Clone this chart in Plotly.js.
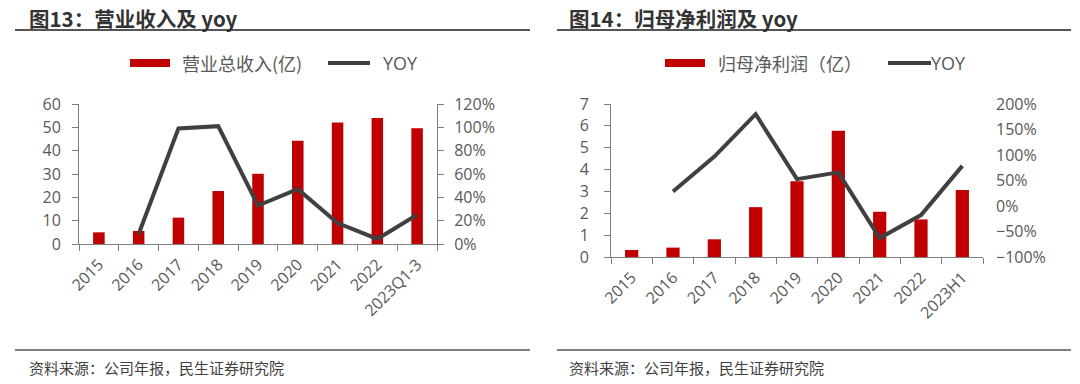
<!DOCTYPE html>
<html>
<head>
<meta charset="utf-8">
<script src="https://cdn.plot.ly/plotly-3.0.1.min.js"></script>
<style>html,body{margin:0;padding:0;background:#fff;}#chart{width:1080px;height:384px;}</style>
</head>
<body>
<div id="chart"></div>
<script>
// ---- data ----
const revenueCategories = ['2015','2016','2017','2018','2019','2020','2021','2022','2023Q1-3'];
const revenueValues = [5.0, 5.6, 11.3, 22.7, 30.1, 44.3, 52.1, 54.0, 49.6];
const revenueYoy = [null, 8.6, 99, 101, 33, 47, 18, 4.3, 25];

const profitCategories = ['2015','2016','2017','2018','2019','2020','2021','2022','2023H1'];
const profitValues = [0.32, 0.43, 0.81, 2.28, 3.46, 5.78, 2.07, 1.72, 3.06];
const profitYoy = [null, 28.5, 97, 180, 52.6, 66, -62.8, -17.8, 78.7];

const leftTitle = '图13：营业收入及 yoy';
const rightTitle = '图14：归母净利润及 yoy';
const revenueName = '营业总收入(亿)';
const profitName = '归母净利润（亿）';
const yoyName = 'YOY';
const sourceText = '资料来源：公司年报，民生证券研究院';

// ---- styles ----
const RED = '#C00000';
const LINE = '#404040';
const AX = '#7f7f7f';
const TXT = '#595959';
const CJK = '"Noto Sans CJK SC", "Noto Sans", sans-serif';
const NUM = '"Open Sans", "Noto Sans CJK SC", sans-serif';
const W = 1080, H = 384;
const px = v => v / W;
const py = v => 1 - v / H;

const traces = [
  {type:'bar', x: revenueCategories, y: revenueValues, name: revenueName, marker:{color:RED},
   width:0.29, xaxis:'x', yaxis:'y'},
  {type:'scatter', mode:'lines', x: revenueCategories, y: revenueYoy, name: yoyName,
   line:{color:LINE, width:4}, xaxis:'x', yaxis:'y2'},
  {type:'bar', x: profitCategories, y: profitValues, name: profitName, marker:{color:RED},
   width:0.32, xaxis:'x2', yaxis:'y3'},
  {type:'scatter', mode:'lines', x: profitCategories, y: profitYoy, name: yoyName,
   line:{color:LINE, width:4}, xaxis:'x2', yaxis:'y4'}
];

const tickFont = {family: NUM, size: 16, color: TXT};
const xBase = {type:'category', tickangle:-45, tickson:'boundaries', ticks:'outside', ticklen:6,
  tickcolor:AX, showline:true, linecolor:AX, linewidth:1, showgrid:false, zeroline:false,
  tickfont:tickFont, ticklabelstandoff:4, fixedrange:true};
const yBase = {ticks:'outside', ticklen:6, tickcolor:AX, showline:true, linecolor:AX, linewidth:1,
  showgrid:false, zeroline:false, tickfont:tickFont, fixedrange:true};

// manual legend entries (swatches as shapes, labels as text)
function legendParts(rx0, tx, lx0, lx1, yx, barName, yc) {
  return {
    shapes: [
      {type:'rect', xref:'paper', yref:'paper', x0:px(rx0), x1:px(rx0+40), y0:py(yc+4), y1:py(yc-4),
       fillcolor:RED, line:{width:0}},
      {type:'line', xref:'paper', yref:'paper', x0:px(lx0), x1:px(lx1), y0:py(yc), y1:py(yc),
       line:{color:LINE, width:4}}
    ],
    annotations: [
      {text:barName, x:px(tx), y:py(yc), xref:'paper', yref:'paper', xanchor:'left', yanchor:'middle',
       showarrow:false, font:{family:CJK, size:18, color:TXT}},
      {text:yoyName, x:px(yx), y:py(yc), xref:'paper', yref:'paper', xanchor:'left', yanchor:'middle',
       showarrow:false, font:{family:NUM, size:18, color:TXT}}
    ]
  };
}
const legL = legendParts(130, 180, 328, 370, 381, revenueName, 63);
const legR = legendParts(665, 716, 888, 931, 929, profitName, 63);

const layout = {
  width: W, height: H,
  margin: {l:0, r:0, t:0, b:0},
  paper_bgcolor:'#fff', plot_bgcolor:'#fff',
  font: {family: CJK, color: TXT},
  showlegend: false,
  xaxis: Object.assign({}, xBase, {domain:[px(79), px(437)], anchor:'y'}),
  yaxis: Object.assign({}, yBase, {domain:[py(244), py(104)], range:[0,60], dtick:10, anchor:'x', ticklabelstandoff:8}),
  yaxis2: Object.assign({}, yBase, {overlaying:'y', side:'right', range:[0,120], dtick:20, ticksuffix:'%',
    anchor:'x', ticklabelstandoff:7}),
  xaxis2: Object.assign({}, xBase, {domain:[px(611), px(983)], anchor:'y3'}),
  yaxis3: Object.assign({}, yBase, {domain:[py(257), py(104)], range:[0,7], dtick:1, anchor:'x2', ticklabelstandoff:12}),
  yaxis4: Object.assign({}, yBase, {overlaying:'y3', side:'right', range:[-100,200], dtick:50, ticksuffix:'%',
    showline:false, ticks:'', anchor:'x2', ticklabelstandoff:12}),
  annotations: [
    {text:'<b>'+leftTitle+'</b>', x:px(27), y:py(18), xref:'paper', yref:'paper', xanchor:'left', yanchor:'middle',
     showarrow:false, font:{family:CJK, size:20.5, color:'#333333'}},
    {text:'<b>'+rightTitle+'</b>', x:px(567), y:py(18), xref:'paper', yref:'paper', xanchor:'left', yanchor:'middle',
     showarrow:false, font:{family:CJK, size:20.5, color:'#333333'}},
    {text:sourceText, x:px(27), y:py(367), xref:'paper', yref:'paper', xanchor:'left', yanchor:'middle',
     showarrow:false, font:{family:CJK, size:15, color:'#404040'}},
    {text:sourceText, x:px(567), y:py(367), xref:'paper', yref:'paper', xanchor:'left', yanchor:'middle',
     showarrow:false, font:{family:CJK, size:15, color:'#404040'}}
  ].concat(legL.annotations, legR.annotations),
  shapes: [
    {type:'line', xref:'paper', yref:'paper', x0:px(15), x1:px(530), y0:py(30), y1:py(30), line:{color:'#555555', width:2}},
    {type:'line', xref:'paper', yref:'paper', x0:px(557), x1:px(1071), y0:py(30), y1:py(30), line:{color:'#555555', width:2}},
    {type:'line', xref:'paper', yref:'paper', x0:px(15), x1:px(530), y0:py(350), y1:py(350), line:{color:'#555555', width:1.5}},
    {type:'line', xref:'paper', yref:'paper', x0:px(557), x1:px(1071), y0:py(350), y1:py(350), line:{color:'#555555', width:1.5}}
  ].concat(legL.shapes, legR.shapes)
};

Plotly.newPlot('chart', traces, layout, {displayModeBar:false, staticPlot:true});
</script>
</body>
</html>
